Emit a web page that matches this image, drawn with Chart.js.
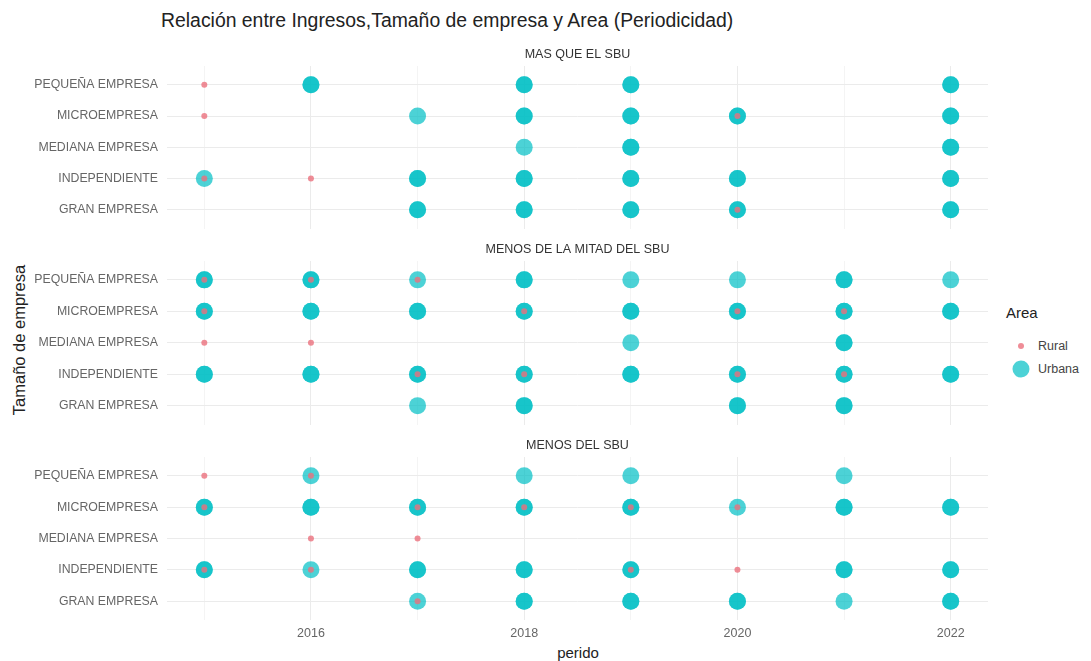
<!DOCTYPE html>
<html>
<head>
<meta charset="utf-8">
<script src="https://cdn.jsdelivr.net/npm/chart.js@4.4.1/dist/chart.umd.min.js"></script>
<style>
  body { margin: 0; background: #fff; width: 1091px; height: 661px; overflow: hidden; position: relative;
         font-family: "Liberation Sans", Arial, sans-serif; }
  canvas { position: absolute; left: 0; }
  .txt { position: absolute; white-space: nowrap; color: #222; }
  #title { left: 161px; top: 9px; font-size: 19.4px; }
  #ytitle { left: 19px; top: 340px; font-size: 16.5px; transform: translate(-50%, -50%) rotate(-90deg); }
  #xtitle { left: 578px; top: 652px; font-size: 15px; transform: translate(-50%, -50%); }
  #legtitle { left: 1006px; top: 304px; font-size: 15px; }
  .key { position: absolute; border-radius: 50%; transform: translate(-50%, -50%); }
  .keylab { position: absolute; font-size: 12.5px; color: #444; transform: translateY(-50%); }
</style>
</head>
<body>
<div class="txt" id="title">Relación entre Ingresos,Tamaño de empresa y Area (Periodicidad)</div>
<div class="txt" id="ytitle">Tamaño de empresa</div>
<div class="txt" id="xtitle">perido</div>
<div class="txt" id="legtitle">Area</div>
<div class="key" style="left:1021px; top:346px; width:6px; height:6px; background:rgba(235,112,125,0.8)"></div>
<div class="keylab" style="left:1038px; top:346px">Rural</div>
<div class="key" style="left:1021px; top:369px; width:17px; height:17px; background:rgba(0,191,196,0.7)"></div>
<div class="keylab" style="left:1038px; top:369px">Urbana</div>

<canvas id="c1" width="1000" height="197" style="top:40px"></canvas>
<canvas id="c2" width="1000" height="198" style="top:235px"></canvas>
<canvas id="c3" width="1000" height="211" style="top:431px"></canvas>

<script>
const years = [2015, 2016, 2017, 2018, 2019, 2020, 2021, 2022];
const categories = ['PEQUEÑA EMPRESA', 'MICROEMPRESA', 'MEDIANA EMPRESA', 'INDEPENDIENTE', 'GRAN EMPRESA'];
const facets = ['MAS QUE EL SBU', 'MENOS DE LA MITAD DEL SBU', 'MENOS DEL SBU'];

// number of overlapping observations per category (rows) and year (columns)
const masUrbana = [
  [0, 2, 0, 2, 2, 0, 0, 2],
  [0, 0, 1, 2, 2, 2, 0, 2],
  [0, 0, 0, 1, 2, 0, 0, 2],
  [1, 0, 2, 2, 2, 2, 0, 2],
  [0, 0, 2, 2, 2, 2, 0, 2]
];
const masRural = [
  [1, 0, 0, 0, 0, 0, 0, 0],
  [1, 0, 0, 0, 0, 1, 0, 0],
  [0, 0, 0, 0, 0, 0, 0, 0],
  [1, 1, 0, 0, 0, 0, 0, 0],
  [0, 0, 0, 0, 0, 1, 0, 0]
];
const mitadUrbana = [
  [2, 2, 1, 2, 1, 1, 2, 1],
  [2, 2, 2, 2, 2, 2, 2, 2],
  [0, 0, 0, 0, 1, 0, 2, 0],
  [2, 2, 2, 2, 2, 2, 2, 2],
  [0, 0, 1, 2, 0, 2, 2, 0]
];
const mitadRural = [
  [1, 1, 1, 0, 0, 0, 0, 0],
  [1, 0, 0, 1, 0, 1, 1, 0],
  [1, 1, 0, 0, 0, 0, 0, 0],
  [0, 0, 1, 1, 0, 1, 1, 0],
  [0, 0, 0, 0, 0, 0, 0, 0]
];
const menosUrbana = [
  [0, 1, 0, 1, 1, 0, 1, 0],
  [2, 2, 2, 2, 2, 1, 2, 2],
  [0, 0, 0, 0, 0, 0, 0, 0],
  [2, 1, 2, 2, 2, 0, 2, 2],
  [0, 0, 1, 2, 2, 2, 1, 2]
];
const menosRural = [
  [1, 1, 0, 0, 0, 0, 0, 0],
  [1, 0, 1, 1, 1, 1, 0, 0],
  [0, 1, 1, 0, 0, 0, 0, 0],
  [1, 1, 0, 0, 1, 1, 0, 0],
  [0, 0, 1, 0, 0, 0, 0, 0]
];

function toPoints(counts) {
  const pts = [];
  counts.forEach((row, i) => {
    row.forEach((n, j) => {
      for (let k = 0; k < n; k++) pts.push({ x: years[j], y: i });
    });
  });
  return pts;
}

const font = "'Liberation Sans', Arial, sans-serif";

function makePanel(id, label, urbana, rural, bottom) {
  new Chart(document.getElementById(id), {
    type: 'scatter',
    data: {
      datasets: [
        { label: 'Rural', data: toPoints(rural), backgroundColor: 'rgba(235,112,125,0.8)', pointRadius: 3, borderWidth: 0 },
        { label: 'Urbana', data: toPoints(urbana), backgroundColor: 'rgba(0,191,196,0.7)', pointRadius: 8.5, borderWidth: 0 }
      ]
    },
    options: {
      responsive: false,
      animation: false,
      events: [],
      layout: { padding: { left: 0, right: 12, top: 0, bottom: 0 } },
      plugins: {
        legend: { display: false },
        tooltip: { enabled: false },
        title: {
          display: true, text: label, fullSize: false, color: '#333',
          font: { family: font, size: 12.5, weight: 'normal' },
          padding: { top: 7, bottom: 4 }
        }
      },
      scales: {
        x: {
          type: 'linear', min: 2014.65, max: 2022.35,
          afterBuildTicks: s => { s.ticks = years.map(v => ({ value: v })); },
          afterFit: s => { s.height = bottom ? 22 : 0; s.paddingLeft = 0; s.paddingRight = 0; },
          border: { display: false },
          grid: {
            drawTicks: false,
            color: c => (c.tick && c.tick.value % 2 === 0) ? '#ebebeb' : '#f4f4f4'
          },
          ticks: {
            display: bottom, autoSkip: false, maxRotation: 0, padding: 6, color: '#666',
            font: { family: font, size: 12.5 },
            callback: v => v % 2 === 0 ? String(v) : ''
          }
        },
        y: {
          type: 'linear', min: -0.6, max: 4.6, reverse: true,
          afterBuildTicks: s => { s.ticks = categories.map((c, i) => ({ value: i })); },
          afterFit: s => { s.width = 167; s.paddingTop = 0; s.paddingBottom = 0; },
          border: { display: false },
          grid: { drawTicks: false, color: '#ebebeb' },
          ticks: {
            padding: 9, color: '#666',
            font: { family: font, size: 12.3 },
            callback: v => categories[v]
          }
        }
      }
    }
  });
}

makePanel('c1', facets[0], masUrbana, masRural, false);
makePanel('c2', facets[1], mitadUrbana, mitadRural, false);
makePanel('c3', facets[2], menosUrbana, menosRural, true);
</script>
</body>
</html>
